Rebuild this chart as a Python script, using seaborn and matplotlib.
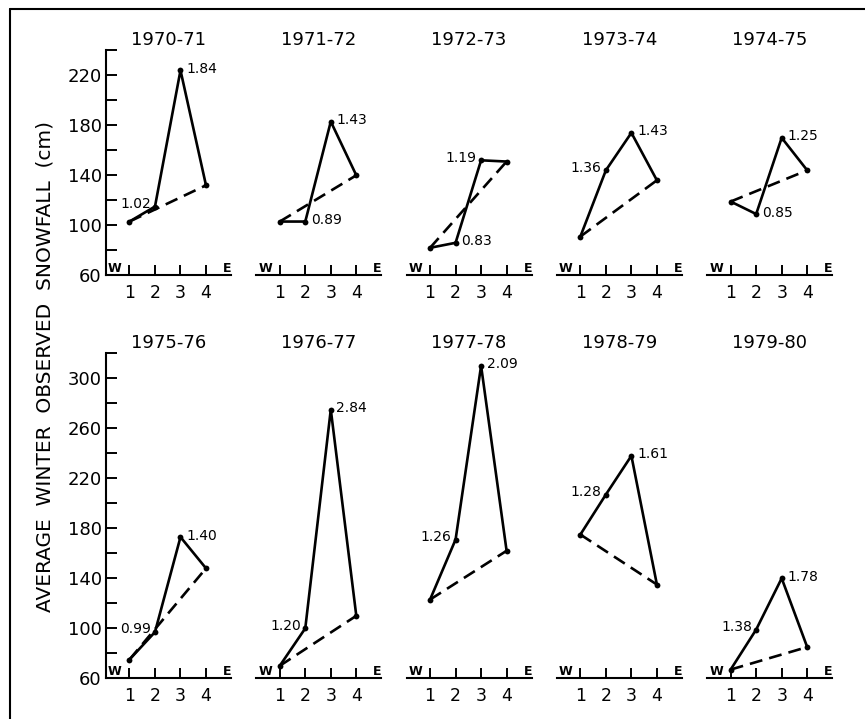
import numpy as np
import pandas as pd
import matplotlib
matplotlib.use("Agg")
import matplotlib.pyplot as plt
import seaborn as sns
from matplotlib.lines import Line2D

# ---------------- data ----------------
SEASONS = ["1970-71", "1971-72", "1972-73", "1973-74", "1974-75",
           "1975-76", "1976-77", "1977-78", "1978-79", "1979-80"]
STATIONS = [1, 2, 3, 4]
STATION_LABELS = ["1", "2", "3", "4"]

SNOW_1970_71 = [103, 115, 224, 132]
SNOW_1971_72 = [103, 103, 183, 140]
SNOW_1972_73 = [82, 86, 152, 151]
SNOW_1973_74 = [91, 144, 174, 136]
SNOW_1974_75 = [119, 109, 170, 144]
SNOW_1975_76 = [75, 97, 173, 148]
SNOW_1976_77 = [70, 100, 275, 110]
SNOW_1977_78 = [123, 171, 310, 162]
SNOW_1978_79 = [175, 207, 238, 135]
SNOW_1979_80 = [67, 99, 140, 85]

RATIO_STATION2 = [1.02, 0.89, 0.83, 1.36, 0.85, 0.99, 1.20, 1.26, 1.28, 1.38]
RATIO_STATION3 = [1.84, 1.43, 1.19, 1.43, 1.25, 1.40, 2.84, 2.09, 1.61, 1.78]

YTICKS_TOP = [60, 100, 140, 180, 220]
YTICKS_BOTTOM = [60, 100, 140, 180, 220, 260, 300]
YLABEL = "AVERAGE  WINTER  OBSERVED  SNOWFALL  (cm)"

SNOW = [SNOW_1970_71, SNOW_1971_72, SNOW_1972_73, SNOW_1973_74, SNOW_1974_75,
        SNOW_1975_76, SNOW_1976_77, SNOW_1977_78, SNOW_1978_79, SNOW_1979_80]

# ---------------- style ----------------
# side of the ratio label (style only)
SIDE2 = ["left", "right", "right", "left", "right", "left", "left", "left", "left", "left"]
SIDE3 = ["right", "right", "left", "right", "right", "right", "right", "right", "right", "right"]

sns.set_theme(style="white")
plt.rcParams["font.family"] = ["DejaVu Sans"]

W, H = 865, 719
fig = plt.figure(figsize=(W / 100, H / 100), dpi=100)

LW = 1.9
INK = "black"

for k, season in enumerate(SEASONS):
    row, col = divmod(k, 5)
    left_px = 106 + 150.3 * col
    if row == 0:
        y0_px, h_px, ylim = 275.3, 225.0, (60, 240)
    else:
        y0_px, h_px, ylim = 678.3, 325.0, (60, 320)
    ax = fig.add_axes([left_px / W, (H - y0_px) / H, 125 / W, h_px / H])
    ax.set_facecolor("none")

    vals = SNOW[k]
    df = pd.DataFrame({"station": STATIONS, "snow": vals})
    trend = pd.DataFrame({"station": [STATIONS[0], STATIONS[-1]],
                          "snow": [vals[0], vals[-1]]})

    sns.lineplot(data=trend, x="station", y="snow", ax=ax, color=INK,
                 lw=LW, ls=(0, (4.9, 2.7)), estimator=None, errorbar=None,
                 clip_on=False)
    sns.lineplot(data=df, x="station", y="snow", ax=ax, color=INK, lw=LW,
                 marker="o", markersize=4.2, markeredgewidth=0,
                 estimator=None, errorbar=None, clip_on=False)

    # ratio labels
    for idx, ratio, side in ((1, RATIO_STATION2[k], SIDE2[k]),
                             (2, RATIO_STATION3[k], SIDE3[k])):
        if side == "right":
            off, ha = (4, 1), "left"
        else:
            off, ha = (-3, 2), "right"
        ax.annotate(f"{ratio:.2f}", (STATIONS[idx], vals[idx]),
                    xytext=off, textcoords="offset points",
                    ha=ha, va="center", fontsize=10, color=INK)

    ax.set_xlim(0.08, 4.98)
    ax.set_ylim(*ylim)
    ax.set_xticks(STATIONS)
    ax.set_xticklabels(STATION_LABELS)
    ax.set_xlabel("")
    ax.set_ylabel("")
    ax.tick_params(axis="x", direction="in", length=7, width=1.4,
                   pad=6, labelsize=12.5, colors=INK, bottom=True)

    ax.text(0.43, ylim[0], "W", ha="center", va="bottom", fontsize=9,
            fontweight="bold", color=INK)
    ax.text(4.83, ylim[0], "E", ha="center", va="bottom", fontsize=9,
            fontweight="bold", color=INK)

    for s in ("top", "right"):
        ax.spines[s].set_visible(False)
    ax.spines["bottom"].set_linewidth(1.5)
    ax.spines["bottom"].set_color(INK)

    if col == 0:
        yt = YTICKS_TOP if row == 0 else YTICKS_BOTTOM
        ax.set_yticks(yt)
        ax.set_yticklabels([str(v) for v in yt])
        ax.set_yticks(np.arange(80, ylim[1] + 1, 40), minor=True)
        ax.tick_params(axis="y", which="both", direction="in", length=8,
                       width=1.4, pad=3, labelsize=13, colors=INK, left=True)
        ax.spines["left"].set_linewidth(1.5)
        ax.spines["left"].set_color(INK)
    else:
        ax.spines["left"].set_visible(False)
        ax.set_yticks([])

    ax.set_title(season, fontsize=13, pad=4, color=INK)

fig.text(45 / W, 1 - 366 / H, YLABEL, rotation=90, ha="center",
         va="center", fontsize=14.5, color=INK)

# frame lines (top and left)
fig.add_artist(Line2D([10 / W, 1.0], [1 - 9 / H, 1 - 9 / H],
                      transform=fig.transFigure, color=INK, lw=1.5))
fig.add_artist(Line2D([10 / W, 10 / W], [0, 1 - 9 / H],
                      transform=fig.transFigure, color=INK, lw=1.5))

fig.savefig("out.png", dpi=100, facecolor="white")
